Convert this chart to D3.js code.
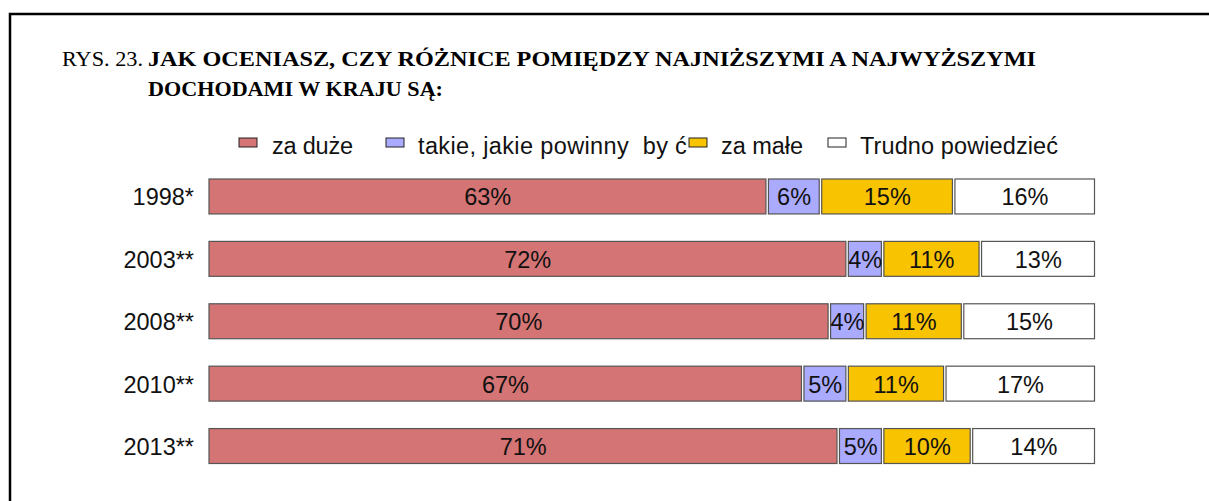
<!DOCTYPE html>
<html>
<head>
<meta charset="UTF-8">
<script src="https://cdn.jsdelivr.net/npm/d3@7"></script>
<style>
body { margin: 0; background: #fff; }
svg { display: block; }
.lbl { font-family: "Liberation Sans", Arial, sans-serif; font-size: 23.5px; fill: #111; }
.ttl { font-family: "Liberation Serif", "Times New Roman", serif; font-size: 22px; fill: #000; }
</style>
</head>
<body>
<div id="chart"></div>
<script>
// dane
const years = ["1998*", "2003**", "2008**", "2010**", "2013**"];
const seriesNames = ["za duże", "takie, jakie powinny  by", "za małe", "Trudno powiedzieć"];
const zaDuze = [63, 72, 70, 67, 71];
const takieJakie = [6, 4, 4, 5, 5];
const zaMale = [15, 11, 11, 11, 10];
const trudno = [16, 13, 15, 17, 14];
const colors = ["#d47474", "#aaaaff", "#f8c300", "#ffffff"];

const W = 1209, H = 501;

const svg = d3.select("#chart").append("svg")
    .attr("width", W)
    .attr("height", H);

// ramka
svg.append("path")
    .attr("d", "M10," + H + "V14H" + W)
    .attr("fill", "none")
    .attr("stroke", "#000")
    .attr("stroke-width", 2.5);

// tytuł
svg.append("text").attr("class", "ttl")
    .attr("x", 62).attr("y", 66)
    .attr("textLength", 81)
    .attr("lengthAdjust", "spacingAndGlyphs")
    .text("RYS. 23.");
svg.append("text").attr("class", "ttl")
    .attr("x", 148).attr("y", 66)
    .attr("textLength", 888)
    .attr("lengthAdjust", "spacingAndGlyphs")
    .style("font-weight", "bold")
    .text("JAK OCENIASZ, CZY RÓŻNICE POMIĘDZY NAJNIŻSZYMI A NAJWYŻSZYMI");
svg.append("text").attr("class", "ttl")
    .attr("x", 148).attr("y", 96)
    .attr("textLength", 295)
    .attr("lengthAdjust", "spacingAndGlyphs")
    .style("font-weight", "bold")
    .text("DOCHODAMI W KRAJU SĄ:");

// legenda
const legX = [239, 386, 689, 828];
const legTextX = [272, 418, 721, 860];
const legTextLen = [81, 250, 82, 198];
const leg = svg.append("g");
seriesNames.forEach(function(name, i) {
    leg.append("rect")
        .attr("x", legX[i]).attr("y", 138)
        .attr("width", 18).attr("height", 9)
        .attr("fill", colors[i])
        .attr("stroke", "#222")
        .attr("stroke-width", 1);
    leg.append("text").attr("class", "lbl")
        .attr("x", legTextX[i]).attr("y", 154)
        .attr("textLength", legTextLen[i])
        .attr("lengthAdjust", "spacing")
        .style("white-space", "pre")
        .text(name);
});
// "ć" oderwane od reszty, jak w oryginale
leg.append("text").attr("class", "lbl")
    .attr("x", 675).attr("y", 154)
    .text("ć");

// skale
const x = d3.scaleLinear()
    .domain([0, 100])
    .range([208, 1096]);

const y = d3.scaleBand()
    .domain(years)
    .range([179, 463.5])
    .paddingInner(0.44)
    .paddingOuter(0);

const rows = years.map(function(yr, i) {
    return { year: yr, vals: [zaDuze[i], takieJakie[i], zaMale[i], trudno[i]] };
});

const row = svg.selectAll(".row")
    .data(rows)
  .enter().append("g")
    .attr("class", "row");

row.append("text").attr("class", "lbl")
    .attr("x", 194)
    .attr("y", function(d) { return y(d.year) + y.bandwidth() / 2 + 9; })
    .attr("text-anchor", "end")
    .text(function(d) { return d.year; });

row.each(function(d) {
    const g = d3.select(this);
    let cum = 0;
    d.vals.forEach(function(v, j) {
        const x0 = x(cum), x1 = x(cum + v);
        g.append("rect")
            .attr("x", x0 + 1)
            .attr("y", y(d.year))
            .attr("width", x1 - x0 - 2.5)
            .attr("height", y.bandwidth())
            .attr("fill", colors[j])
            .attr("stroke", "#555")
            .attr("stroke-width", 1.2);
        g.append("text").attr("class", "lbl")
            .attr("x", (x0 + x1) / 2)
            .attr("y", y(d.year) + y.bandwidth() / 2 + 9)
            .attr("text-anchor", "middle")
            .text(v + "%");
        cum += v;
    });
});
</script>
</body>
</html>
